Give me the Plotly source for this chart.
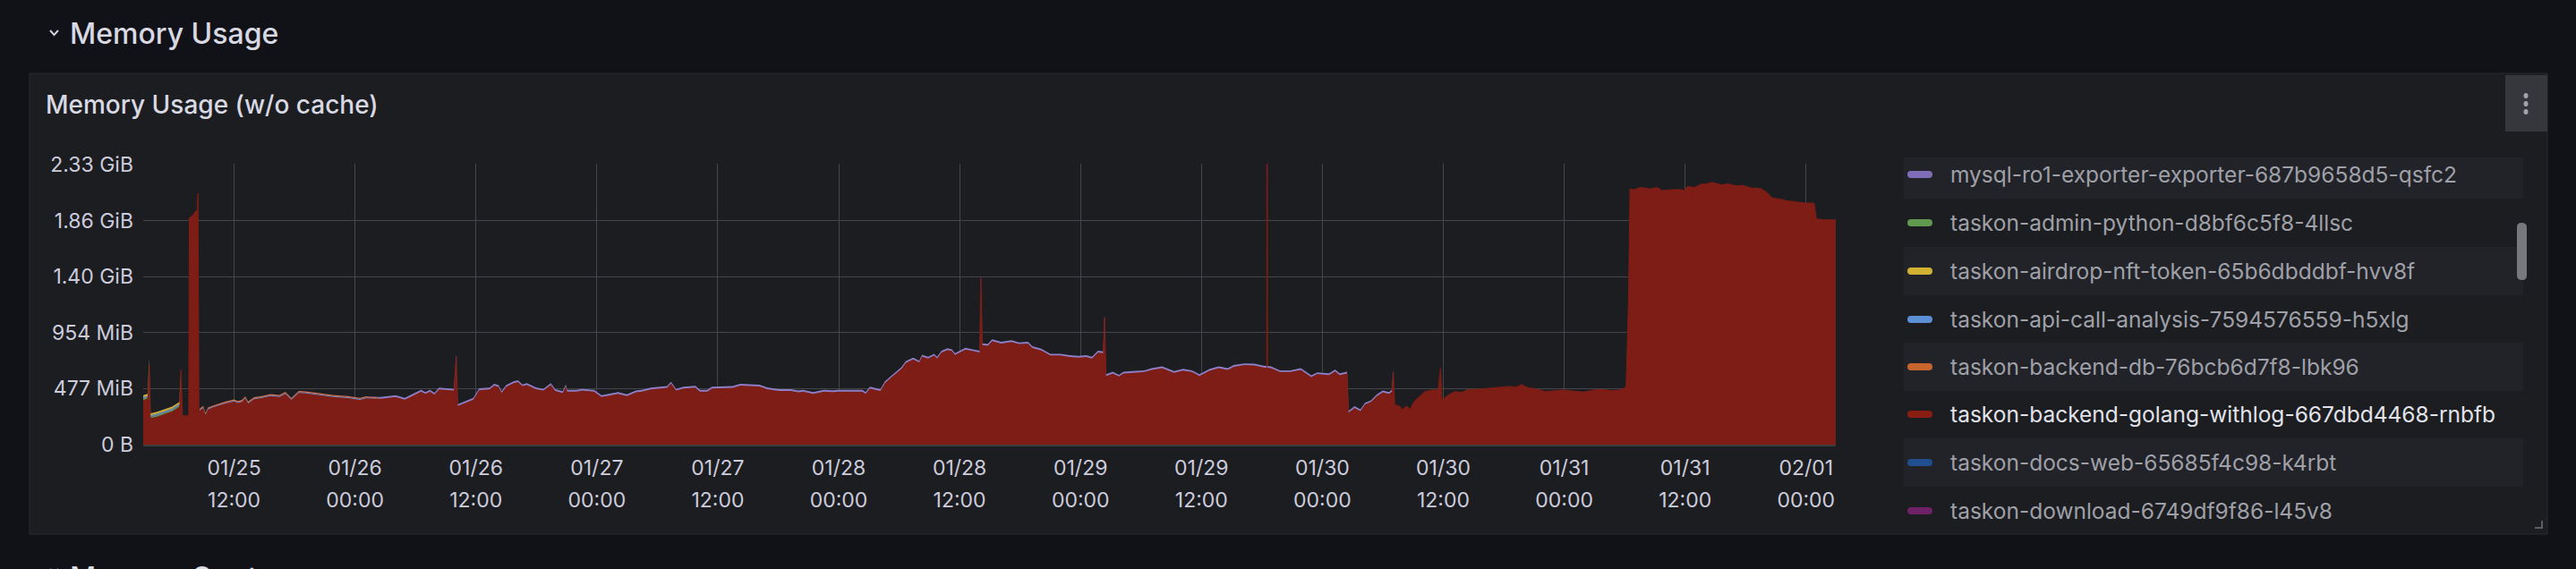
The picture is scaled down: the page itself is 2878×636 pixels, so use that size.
import pandas as pd
import plotly.graph_objects as go

# ---------------- data (hours since 2025-01-25 00:00, MiB) ----------------
BASE = pd.Timestamp("2025-01-25 00:00")

golang_hours = [
    2.98, 3.42, 3.57, 3.71, 4.36, 5.25, 5.84, 6.44, 6.58, 6.73, 6.88, 7.18, 7.50,
    7.56, 7.92, 8.15, 8.33, 8.42, 8.51, 8.95, 9.16, 9.40, 9.99, 10.58, 11.17, 12.00,
    12.36, 12.80, 13.10, 13.39, 13.98, 14.72, 15.61, 16.50, 17.09, 17.68, 18.42,
    19.16, 20.35, 21.83, 23.31, 24.49, 25.08, 26.26, 28.04, 28.93, 29.82, 30.56,
    31.00, 31.44, 31.89, 32.33, 33.81, 34.05, 34.20, 34.85, 35.73, 36.33, 37.36,
    37.81, 38.25, 38.55, 38.99, 39.73, 40.17, 40.62, 41.06, 41.95, 42.69, 43.43,
    43.87, 44.61, 44.91, 45.06, 45.95, 46.54, 47.72, 48.46, 49.05, 50.09, 50.98,
    51.87, 52.46, 53.35, 54.23, 54.97, 55.36, 55.86, 56.60, 57.78, 58.23, 58.97,
    59.41, 60.45, 61.49, 62.23, 63.12, 64.15, 64.89, 66.08, 67.26, 68.00, 68.44,
    69.48, 70.51, 71.40, 71.99, 73.18, 74.36, 74.66, 75.10, 76.14, 76.58, 77.32,
    78.21, 78.65, 79.39, 79.99, 80.28, 80.87, 81.47, 81.76, 82.21, 82.80, 83.24,
    83.54, 84.13, 84.57, 85.31, 85.99, 86.11, 86.26, 86.79, 87.23, 88.12, 89.15,
    89.89, 90.78, 91.22, 92.11, 93.00, 94.03, 94.92, 95.81, 96.55, 97.14, 97.73,
    98.24, 98.39, 98.53, 99.21, 99.81, 100.25, 101.14, 102.32, 103.06, 104.10,
    105.28, 106.17, 107.06, 107.80, 108.83, 109.72, 110.61, 111.20, 112.24, 113.27,
    114.16, 114.48, 114.50, 114.54, 114.56, 114.90, 115.79, 116.82, 117.86, 118.90,
    119.49, 120.67, 121.26, 121.71, 122.45, 122.60, 123.19, 123.78, 124.23, 124.82,
    125.41, 126.00, 126.60, 126.89, 127.04, 127.19, 127.64, 127.93, 128.38, 128.73,
    128.97, 129.30, 129.71, 130.15, 130.89, 131.49, 131.72, 131.87, 132.37, 133.11,
    133.85, 134.30, 135.63, 137.41, 138.59, 139.19, 139.78, 140.37, 141.26, 142.15,
    143.04, 143.92, 144.81, 146.00, 146.88, 147.77, 148.66, 149.55, 150.14, 150.38,
    150.53, 150.88, 151.62, 152.51, 153.25, 153.70, 154.58, 155.47, 155.91, 156.21,
    156.95, 157.54, 158.13, 158.72, 159.61, 160.20, 161.09, 161.68, 162.57, 163.46,
    164.05, 164.64, 165.53, 166.12, 167.01, 167.90, 168.79, 169.03, 169.68, 170.95,
]
golang_mib = [
    376, 388, 682, 222, 235, 261, 279, 312, 319, 636, 248, 243, 248,
    1929, 1955, 1985, 1991, 2139, 286, 312, 253, 299, 319, 337, 350, 368,
    355, 363, 394, 350, 386, 396, 414, 406, 432, 381, 440,
    437, 422, 406, 396, 381, 394, 388, 406, 383, 422, 452,
    432, 452, 427, 470, 460, 751, 330, 350, 383, 465, 470,
    503, 491, 440, 491, 524, 534, 498, 509, 473, 460, 509,
    457, 440, 496, 452, 452, 460, 452, 406, 414, 432, 414,
    445, 452, 470, 478, 483, 521, 460, 478, 486, 452, 452,
    478, 483, 483, 503, 501, 496, 473, 457, 457, 445, 452,
    432, 452, 447, 452, 452, 452, 432, 478, 457, 524, 580,
    644, 695, 726, 700, 751, 733, 759, 733, 785, 805, 797,
    764, 790, 810, 797, 785, 1418, 848, 841, 882, 861, 874,
    856, 861, 823, 802, 759, 759, 746, 741, 746, 733, 785,
    779, 1083, 585, 606, 580, 606, 611, 618, 636, 652,
    611, 631, 618, 585, 631, 652, 636, 662, 677, 675,
    657, 655, 4000, 4000, 655, 652, 618, 618, 636, 575,
    601, 593, 624, 593, 606, 273, 312, 286, 342, 363,
    414, 445, 432, 452, 618, 337, 330, 299, 330, 299,
    350, 385, 414, 452, 465, 465, 652, 381, 414, 452,
    445, 465, 473, 486, 496, 488, 511, 486, 473, 452,
    457, 465, 457, 447, 465, 470, 460, 465, 491, 1219,
    2177, 2170, 2190, 2177, 2190, 2164, 2170, 2172, 2164, 2198,
    2190, 2216, 2221, 2233, 2210, 2221, 2203, 2208, 2185, 2182,
    2152, 2101, 2088, 2075, 2067, 2057, 2057, 1922, 1914, 1914,
]

# small series stacked above (key points, MiB)
admin_hours = [2.98, 6.62, 6.66, 170.95]
admin_mib = [15, 15, 0, 0]
api_hours = [2.98, 6.62, 6.66, 8.55, 8.60, 26.20, 26.50, 170.95]
api_mib = [13, 13, 0, 0, 7, 7, 0, 0]
db_hours = [2.98, 8.55, 8.60, 26.20, 26.50, 170.95]
db_mib = [0, 0, 10, 10, 0, 0]
airdrop_hours = [2.98, 6.62, 6.66, 170.95]
airdrop_mib = [17, 17, 0, 0]
mysql_hours = [2.98, 26.20, 26.50, 127.00, 127.10, 170.95]
mysql_mib = [0, 0, 15, 15, 0, 0]

legend_names = [
    "mysql-ro1-exporter-exporter-687b9658d5-qsfc2",
    "taskon-admin-python-d8bf6c5f8-4llsc",
    "taskon-airdrop-nft-token-65b6dbddbf-hvv8f",
    "taskon-api-call-analysis-7594576559-h5xlg",
    "taskon-backend-db-76bcb6d7f8-lbk96",
    "taskon-backend-golang-withlog-667dbd4468-rnbfb",
    "taskon-docs-web-65685f4c98-k4rbt",
    "taskon-download-6749df9f86-l45v8",
]
legend_colors = ["#7f6eb7", "#5f9a4e", "#d2b232", "#5b8fd6", "#c6652d",
                 "#8a1d12", "#1f4f8f", "#6e2166"]

y_tick_mib = [0, 476.837, 953.674, 1430.511, 1907.349, 2384.186]
y_tick_text = ["0 B", "477 MiB", "954 MiB", "1.40 GiB", "1.86 GiB", "2.33 GiB"]

x_tick_hours = [12, 24, 36, 48, 60, 72, 84, 96, 108, 120, 132, 144, 156, 168]
x_tick_dates = ["01/25", "01/26", "01/26", "01/27", "01/27", "01/28", "01/28",
                "01/29", "01/29", "01/30", "01/30", "01/31", "01/31", "02/01"]
x_tick_times = ["12:00", "00:00", "12:00", "00:00", "12:00", "00:00", "12:00",
                "00:00", "12:00", "00:00", "12:00", "00:00", "12:00", "00:00"]

# ---------------- geometry ----------------
W, H = 2878, 636
PL, PR, PT, PB = 160, 2051, 183, 497
FONT = "Inter, Roboto, 'Open Sans', sans-serif"


def tx(hours):
    return [BASE + pd.Timedelta(hours=h) for h in hours]


def fx(p):
    return (p - PL) / (PR - PL)


def fy(p):
    return (PB - p) / (PB - PT)


fig = go.Figure()

RED = "#7e1d15"
fig.add_trace(go.Scatter(
    x=tx(golang_hours), y=golang_mib, name=legend_names[5],
    stackgroup="mem", stackgaps="interpolate", mode="lines",
    line=dict(color=RED, width=1), fillcolor=RED, hoverinfo="skip"))

bands = [
    (admin_hours, admin_mib, legend_names[1], "#5f9a4e"),
    (api_hours, api_mib, legend_names[3], "#6b8fc6"),
    (db_hours, db_mib, legend_names[4], "#d27458"),
    (airdrop_hours, airdrop_mib, legend_names[2], "#c9ad3e"),
    (mysql_hours, mysql_mib, legend_names[0], "#8d80c8"),
]
for hrs, vals, nm, col in bands:
    fig.add_trace(go.Scatter(
        x=tx(hrs), y=vals, name=nm, stackgroup="mem", stackgaps="interpolate",
        mode="lines", line=dict(color=col, width=0), fillcolor=col,
        hoverinfo="skip"))

# carrier for the second line of x tick labels
fig.add_trace(go.Scatter(x=tx([x_tick_hours[0]]), y=[None], xaxis="x2",
                         mode="lines", showlegend=False, hoverinfo="skip"))

x_range = tx([2.98, 170.95])
y_max = y_tick_mib[-1] * (PB - PT) / (PB - 184)

GRID = "#45464c"
TICKC = "#ccccdc"
TS = 23
LS = 24.5

fig.update_layout(
    width=W, height=H,
    margin=dict(l=PL, r=W - PR, t=PT, b=H - PB, pad=0, autoexpand=False),
    paper_bgcolor="#111217", plot_bgcolor="rgba(0,0,0,0)",
    showlegend=False,
    font=dict(family=FONT, color=TICKC),
    xaxis=dict(type="date", range=x_range, tickvals=tx(x_tick_hours),
               ticktext=x_tick_dates, showgrid=True, gridcolor=GRID, gridwidth=1,
               zeroline=False, showline=True, linecolor="#3b3c42", linewidth=2,
               ticks="", ticklabelstandoff=4,
               tickfont=dict(family=FONT, size=TS, color=TICKC)),
    xaxis2=dict(type="date", range=x_range, overlaying="x", anchor="y",
                side="bottom", tickvals=tx(x_tick_hours), ticktext=x_tick_times,
                showgrid=False, zeroline=False, showline=False, ticks="",
                ticklabelstandoff=46,
                tickfont=dict(family=FONT, size=TS, color=TICKC)),
    yaxis=dict(range=[0, y_max], tickvals=y_tick_mib, ticktext=y_tick_text,
               showgrid=True, gridcolor=GRID, gridwidth=1, zeroline=False,
               showline=False, ticks="", ticklabelstandoff=10,
               tickfont=dict(family=FONT, size=TS, color=TICKC)),
)

shapes = []
# panel
shapes.append(dict(type="rect", xref="paper", yref="paper", layer="below",
                   x0=fx(33), x1=fx(2846), y0=fy(82), y1=fy(597),
                   fillcolor="#1c1d21", line=dict(color="#2a2b30", width=1)))
# menu button
shapes.append(dict(type="rect", xref="paper", yref="paper", layer="below",
                   x0=fx(2799), x1=fx(2846), y0=fy(84), y1=fy(147),
                   fillcolor="#36373d", line=dict(width=0)))
for dy in (107, 116, 125):
    shapes.append(dict(type="circle", xref="paper", yref="paper", layer="above",
                       x0=fx(2819.5), x1=fx(2824.5), y0=fy(dy - 3), y1=fy(dy + 3),
                       fillcolor="#a3a4ab", line=dict(width=0)))
# section chevrons
for cy in (36, 638):
    shapes.append(dict(type="path", xref="paper", yref="paper", layer="above",
                       path=f"M {fx(56)} {fy(cy - 2)} L {fx(60.5)} {fy(cy + 3)} L {fx(65)} {fy(cy - 2)}",
                       line=dict(color="#ccccdc", width=2)))
# legend rows
row_centers = [195, 249, 303, 357, 410, 463, 517, 571]
for i, yc in enumerate(row_centers):
    if i % 2 == 0:
        y0 = max(yc - 27, 176)
        shapes.append(dict(type="rect", xref="paper", yref="paper", layer="below",
                           x0=fx(2127), x1=fx(2819), y0=fy(y0), y1=fy(yc + 27),
                           fillcolor="#222328", line=dict(width=0)))
    c = legend_colors[i]
    x0, x1, h2 = 2131, 2159, 4
    path = (f"M {fx(x0 + 4)} {fy(yc - h2)} L {fx(x1 - 4)} {fy(yc - h2)} "
            f"Q {fx(x1)} {fy(yc - h2)} {fx(x1)} {fy(yc)} "
            f"Q {fx(x1)} {fy(yc + h2)} {fx(x1 - 4)} {fy(yc + h2)} "
            f"L {fx(x0 + 4)} {fy(yc + h2)} "
            f"Q {fx(x0)} {fy(yc + h2)} {fx(x0)} {fy(yc)} "
            f"Q {fx(x0)} {fy(yc - h2)} {fx(x0 + 4)} {fy(yc - h2)} Z")
    shapes.append(dict(type="path", xref="paper", yref="paper", layer="above",
                       path=path, fillcolor=c, line=dict(width=0)))
# scrollbar
sx0, sx1, sy0, sy1, r = 2812, 2823, 249, 313, 5
shapes.append(dict(type="path", xref="paper", yref="paper", layer="above",
                   path=(f"M {fx(sx0)} {fy(sy0 + r)} Q {fx(sx0)} {fy(sy0)} {fx(sx0 + r)} {fy(sy0)} "
                         f"Q {fx(sx1)} {fy(sy0)} {fx(sx1)} {fy(sy0 + r)} "
                         f"L {fx(sx1)} {fy(sy1 - r)} Q {fx(sx1)} {fy(sy1)} {fx(sx1 - r)} {fy(sy1)} "
                         f"Q {fx(sx0)} {fy(sy1)} {fx(sx0)} {fy(sy1 - r)} Z"),
                   fillcolor="#77787e", line=dict(width=0)))
# resize handle
shapes.append(dict(type="path", xref="paper", yref="paper", layer="above",
                   path=f"M {fx(2840)} {fy(582)} L {fx(2840)} {fy(590)} L {fx(2832)} {fy(590)}",
                   line=dict(color="#5c5d63", width=2)))

annotations = [
    dict(text="Memory Usage", xref="paper", yref="paper", x=fx(76), y=fy(37),
         xanchor="left", yanchor="middle", showarrow=False,
         font=dict(family=FONT, size=32, color="#d8d9e2", weight=500)),
    dict(text="Memory Quota", xref="paper", yref="paper", x=fx(76), y=fy(645),
         xanchor="left", yanchor="middle", showarrow=False,
         font=dict(family=FONT, size=32, color="#d8d9e2", weight=500)),
    dict(text="Memory Usage (w/o cache)", xref="paper", yref="paper",
         x=fx(49), y=fy(117), xanchor="left", yanchor="middle", showarrow=False,
         font=dict(family=FONT, size=28, color="#d8d9e2", weight=500)),
]
for i, (nm, yc) in enumerate(zip(legend_names, row_centers)):
    col = "#e2e3ea" if i == 5 else "#9fa0a8"
    annotations.append(dict(text=nm, xref="paper", yref="paper", x=fx(2177), y=fy(yc),
                            xanchor="left", yanchor="middle", showarrow=False,
                            font=dict(family=FONT, size=LS, color=col)))

fig.update_layout(shapes=shapes, annotations=annotations)
fig.write_html(
    "out.html",
    config={"displayModeBar": False},
    post_script="document.body.style.margin='0px';document.body.style.overflow='hidden';document.body.style.background='#111217';",
)
